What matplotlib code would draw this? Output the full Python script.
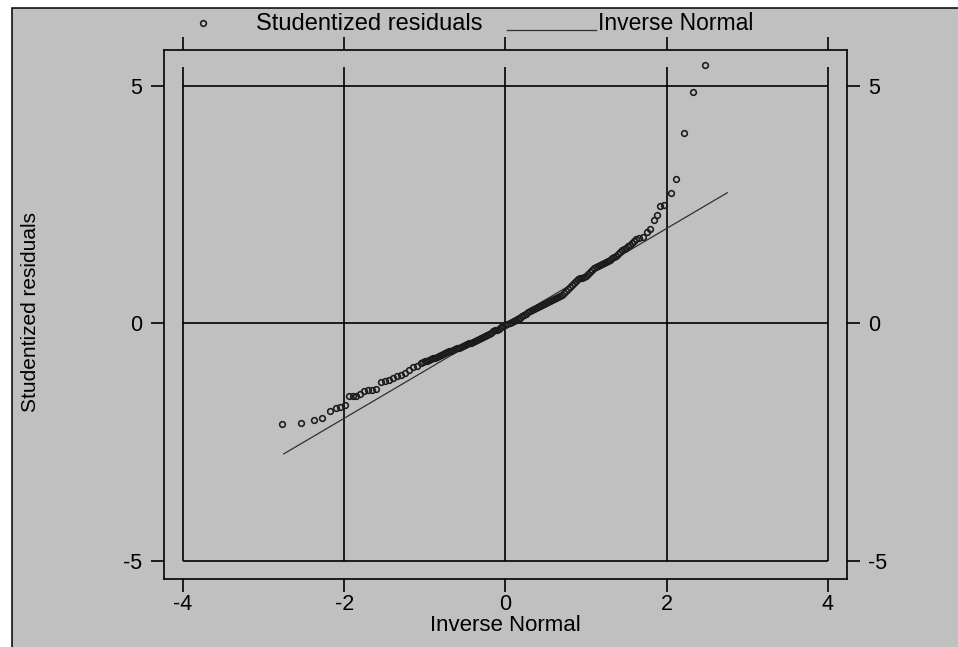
import numpy as np
import matplotlib.pyplot as plt
from matplotlib.patches import Rectangle
from matplotlib.lines import Line2D

# =============================================================================
# Datos (qnorm de residuos studentizados)
# =============================================================================
# cola izquierda
x_cola_izq = [-2.77, -2.53, -2.38, -2.27, -2.18, -2.10, -2.05, -1.99, -1.94, -1.89,
              -1.85, -1.80, -1.75, -1.70, -1.65, -1.60, -1.54, -1.50, -1.45, -1.40,
              -1.35, -1.30, -1.25, -1.20, -1.15, -1.10]
y_cola_izq = [-2.13, -2.10, -2.03, -1.99, -1.84, -1.78, -1.76, -1.72, -1.53, -1.53,
              -1.53, -1.48, -1.43, -1.41, -1.40, -1.38, -1.24, -1.22, -1.19, -1.15,
              -1.12, -1.08, -1.04, -0.99, -0.93, -0.89]

# parte central (banda densa)
x_centro = [-1.05, -1.00, -0.95, -0.90, -0.85, -0.80, -0.75, -0.70, -0.65, -0.60,
            -0.55, -0.50, -0.45, -0.40, -0.35, -0.30, -0.25, -0.20, -0.15, -0.10,
            -0.05, 0.00, 0.05, 0.10, 0.15, 0.20, 0.25, 0.30, 0.35, 0.40,
            0.45, 0.50, 0.55, 0.60, 0.65, 0.70, 0.75, 0.80, 0.85, 0.90,
            0.95, 1.00, 1.05, 1.10, 1.15, 1.20, 1.25, 1.30, 1.35, 1.40,
            1.45, 1.50, 1.55, 1.60, 1.65]
y_centro = [-0.84, -0.80, -0.77, -0.73, -0.70, -0.66, -0.62, -0.59, -0.56, -0.53,
            -0.50, -0.46, -0.42, -0.39, -0.35, -0.31, -0.26, -0.22, -0.17, -0.13,
            -0.08, -0.04, 0.01, 0.05, 0.09, 0.15, 0.20, 0.25, 0.30, 0.34,
            0.38, 0.42, 0.46, 0.51, 0.55, 0.59, 0.68, 0.76, 0.86, 0.93,
            0.96, 0.99, 1.09, 1.16, 1.20, 1.24, 1.30, 1.34, 1.39, 1.45,
            1.54, 1.58, 1.65, 1.74, 1.79]

# mas puntos de la banda central (entre los anteriores)
x_centro_b = [-1.025, -0.975, -0.925, -0.875, -0.825, -0.775, -0.725, -0.675, -0.625,
              -0.575, -0.525, -0.475, -0.425, -0.375, -0.325, -0.275, -0.225, -0.175,
              -0.125, -0.075, -0.025, 0.025, 0.075, 0.125, 0.175, 0.225, 0.275,
              0.325, 0.375, 0.425, 0.475, 0.525, 0.575, 0.625, 0.675, 0.725,
              0.775, 0.825, 0.875, 0.925, 0.975, 1.025, 1.075, 1.125, 1.175,
              1.225, 1.275, 1.325, 1.375, 1.425, 1.475, 1.525, 1.575, 1.625]
y_centro_b = [-0.82, -0.79, -0.75, -0.72, -0.68, -0.64, -0.61, -0.58, -0.55,
              -0.52, -0.48, -0.44, -0.41, -0.37, -0.33, -0.29, -0.24, -0.20,
              -0.15, -0.11, -0.06, -0.02, 0.03, 0.07, 0.12, 0.18, 0.23,
              0.28, 0.32, 0.36, 0.40, 0.44, 0.49, 0.53, 0.57, 0.63,
              0.72, 0.81, 0.90, 0.95, 0.97, 1.04, 1.13, 1.18, 1.22,
              1.27, 1.32, 1.37, 1.42, 1.50, 1.56, 1.62, 1.70, 1.77]

# cola derecha
x_cola_der = [1.70, 1.75, 1.79, 1.84, 1.88, 1.92, 1.96, 2.05, 2.12, 2.22, 2.32, 2.47]
y_cola_der = [1.82, 1.93, 1.98, 2.17, 2.29, 2.47, 2.50, 2.75, 3.03, 4.01, 4.87, 5.44]

# linea de referencia (normal inversa)
x_ref = [-2.75, 2.75]
y_ref = [-2.75, 2.75]

ticks_x = [-4, -2, 0, 2, 4]
ticks_y = [-5, 0, 5]

inv_normal = np.array(x_cola_izq + x_centro + x_centro_b + x_cola_der)
resid_stud = np.array(y_cola_izq + y_centro + y_centro_b + y_cola_der)

# =============================================================================
# Figura
# =============================================================================
plt.rcParams['font.family'] = ['Liberation Sans', 'DejaVu Sans']
plt.rcParams['axes.unicode_minus'] = False

W, H = 958, 647
fig = plt.figure(figsize=(W / 100, H / 100), dpi=100)
fig.patch.set_facecolor('white')

# panel gris con borde (estilo Stata), por debajo de los ejes
panel = Rectangle((12 / W, -0.02), 1.05, 1 - 8 / H + 0.02, transform=fig.transFigure,
                  facecolor='#c0c0c0', edgecolor='black', linewidth=1.1, zorder=-5)
fig.patches.append(panel)

ax = fig.add_axes([164 / W, (H - 579) / H, (846.7 - 164) / W, (579 - 50) / H])
ax.set_facecolor('none')
ax.set_zorder(2)
ax.set_xlim(-4.235, 4.232)
ax.set_ylim(-5.386, 5.758)

for lado in ax.spines.values():
    lado.set_linewidth(1.2)
    lado.set_color('black')

# rejilla interior
ax.hlines(ticks_y, ticks_x[0], ticks_x[-1], color='black', linewidth=1.2)
ax.vlines(ticks_x, ticks_y[0], 5.40, color='black', linewidth=1.2)

# puntos y linea
ax.plot(x_ref, y_ref, color='#303030', linewidth=0.9)
ax.plot(inv_normal, resid_stud, linestyle='none', marker='o', markersize=4.1,
        markerfacecolor='none', markeredgecolor='#1a1a1a', markeredgewidth=1.15)

ax.set_xticks(ticks_x)
ax.set_yticks(ticks_y)
ax.set_xticklabels([str(t) for t in ticks_x])
ax.set_yticklabels([str(t) for t in ticks_y])
ax.tick_params(axis='both', direction='out', length=9.5, width=1.2, colors='black',
               labelsize=15.5)
ax.tick_params(axis='x', top=True, labeltop=False, pad=1)
ax.tick_params(axis='y', right=True, labelright=True, pad=6)

ax.set_xlabel('Inverse Normal', fontsize=16, labelpad=0)
fig.text(31 / W, 1 - 312 / H, 'Studentized residuals', rotation=90, fontsize=15,
         ha='center', va='center')

# leyenda manual arriba
y_base = 1 - 30 / H
fig.lines.append(Line2D([203 / W], [1 - 23 / H], transform=fig.transFigure,
                        linestyle='none', marker='o', markersize=4.1,
                        markerfacecolor='none', markeredgecolor='#1a1a1a',
                        markeredgewidth=1.15))
fig.text(256.5 / W, y_base, 'Studentized residuals', fontsize=17, va='baseline')
fig.lines.append(Line2D([507 / W, 596 / W], [y_base, y_base], transform=fig.transFigure,
                        color='#303030', linewidth=0.9))
fig.text(597.5 / W, y_base, 'Inverse Normal', fontsize=16.5, va='baseline')

plt.savefig('out.png', dpi=100)
